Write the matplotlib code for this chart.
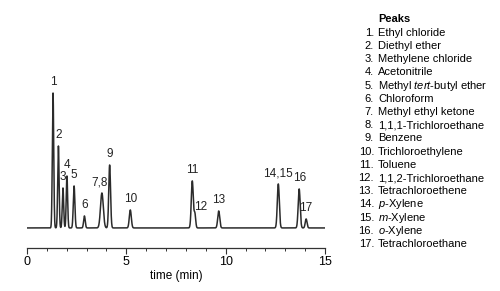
import numpy as np
import matplotlib
matplotlib.use("Agg")
import matplotlib.pyplot as plt
from matplotlib import font_manager

# peak data (retention time in min, height in arbitrary units, width sigma)
peak_times = [1.31, 1.58, 1.81, 2.01, 2.37, 2.89, 3.77, 4.16, 5.20, 8.32, 8.45, 9.65, 12.65, 13.70, 14.05]
peak_heights = [135, 82, 40, 52, 42, 12, 35, 63, 18, 47, 14, 17, 44, 39, 9]
peak_widths = [0.035, 0.035, 0.035, 0.035, 0.04, 0.04, 0.07, 0.045, 0.05, 0.05, 0.04, 0.05, 0.05, 0.05, 0.045]
peak_labels = ["1", "2", "3", "4", "5", "6", "7,8", "9", "10", "11", "12", "13", "14,15", "16", "17"]
label_dx = [0, 0, 0, 0, 0, 0, -0.1, 0, 0, 0, 0.3, 0, 0, 0, 0]

compounds = [
    "Ethyl chloride", "Diethyl ether", "Methylene chloride", "Acetonitrile",
    "Methyl $\\it{tert}$-butyl ether", "Chloroform", "Methyl ethyl ketone",
    "1,1,1-Trichloroethane", "Benzene", "Trichloroethylene", "Toluene",
    "1,1,2-Trichloroethane", "Tetrachloroethene", "$\\it{p}$-Xylene",
    "$\\it{m}$-Xylene", "$\\it{o}$-Xylene", "Tetrachloroethane",
]

names = {f.name for f in font_manager.fontManager.ttflist}
family = "Liberation Sans Narrow" if "Liberation Sans Narrow" in names else "Liberation Sans"
plt.rcParams["font.family"] = [family, "DejaVu Sans"]
plt.rcParams["mathtext.fontset"] = "custom"
plt.rcParams["mathtext.it"] = family + ":italic"
plt.rcParams["mathtext.rm"] = family

t = np.linspace(0, 15, 3000)
signal = np.zeros_like(t)
for rt, h, w in zip(peak_times, peak_heights, peak_widths):
    signal += h * np.exp(-0.5 * ((t - rt) / w) ** 2)

fig = plt.figure(figsize=(5, 2.91), dpi=100)
ax = fig.add_axes([0.054, 0.148, 0.596, 0.687])
ax.plot(t, signal, color="#2b2b2b", lw=1.1)
ax.set_xlim(0, 15)
ax.set_ylim(-20, 180)

for rt, h, lab, dx in zip(peak_times, peak_heights, peak_labels, label_dx):
    if lab == "12":
        ax.annotate(lab, (rt + dx, 15), ha="center", va="bottom", fontsize=8.5, color="#222222")
        continue
    ax.annotate(lab, (rt + dx, h), xytext=(0, 3.5), textcoords="offset points",
                ha="center", va="bottom", fontsize=8.5, color="#222222")

for s in ["left", "top", "right"]:
    ax.spines[s].set_visible(False)
ax.spines["bottom"].set_color("#333333")
ax.spines["bottom"].set_linewidth(0.9)
ax.set_yticks([])
ax.set_xticks([0, 5, 10, 15])
ax.set_xticks(np.arange(0, 16, 1), minor=True)
ax.tick_params(axis="x", which="major", length=4, width=0.8, color="#333333", labelsize=9, pad=2)
ax.tick_params(axis="x", which="minor", length=2.5, width=0.7, color="#333333")
ax.set_xlabel("time (min)", fontsize=8.5, labelpad=1)

# peak list
fig.text(0.757, 0.935, "Peaks", fontsize=8, fontweight="bold", va="center", ha="left")
y0 = 0.887
dy = 13.2 / 291
for i, name in enumerate(compounds):
    y = y0 - i * dy
    fig.text(0.748, y, f"{i + 1}.", fontsize=8, va="center", ha="right")
    fig.text(0.756, y, name, fontsize=8, va="center", ha="left")

fig.savefig("out.png", dpi=100)
